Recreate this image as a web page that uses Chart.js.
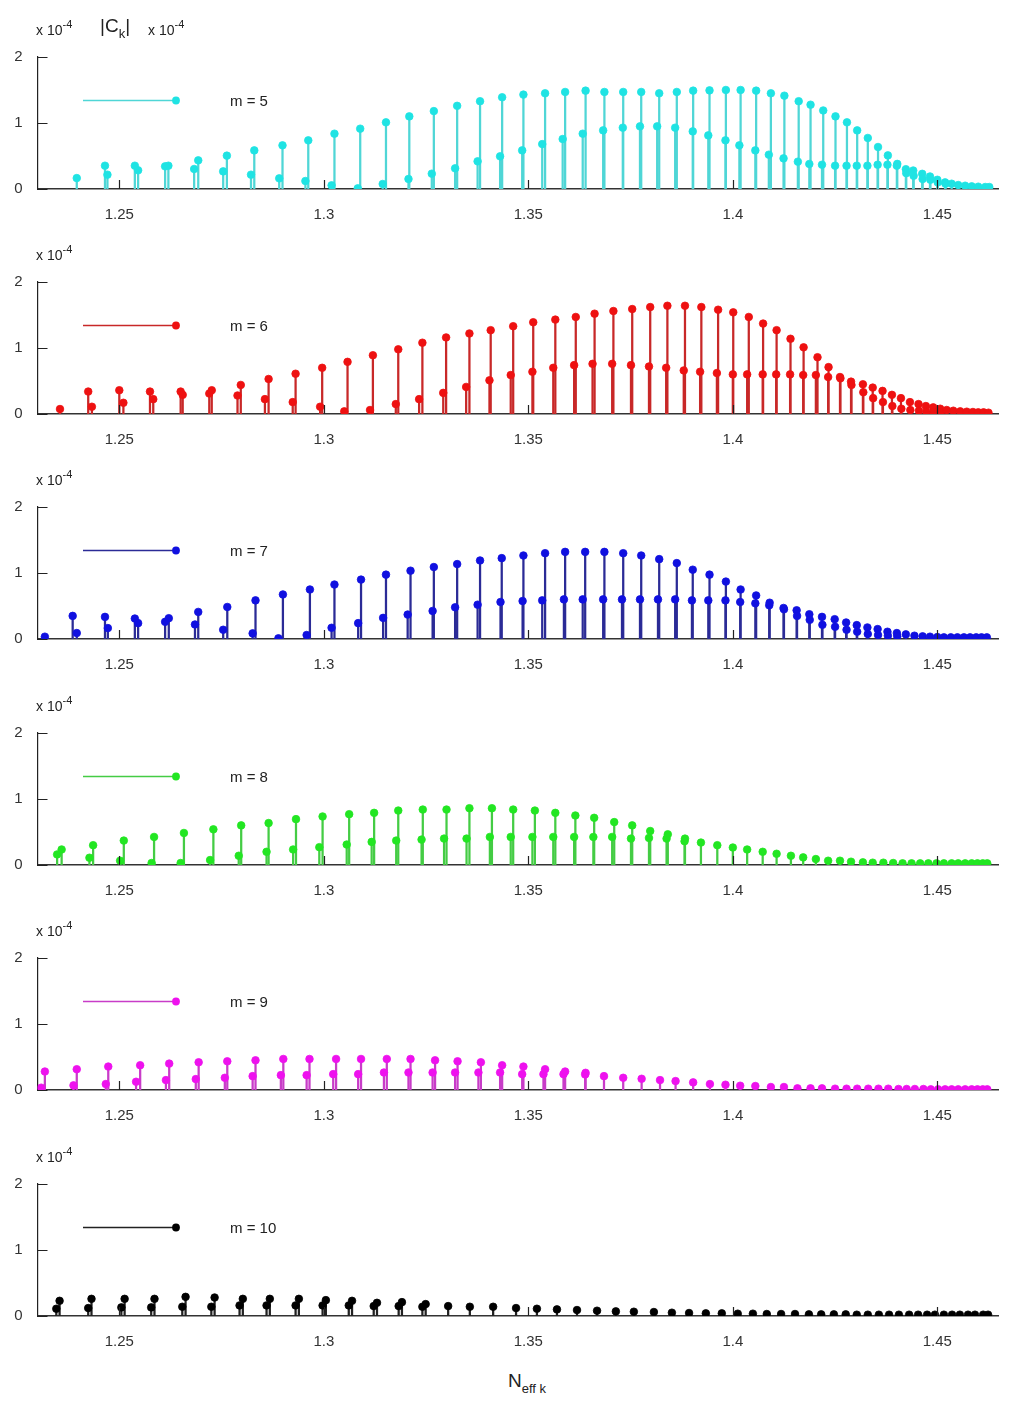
<!DOCTYPE html>
<html>
<head>
<meta charset="utf-8">
<script src="https://cdn.jsdelivr.net/npm/chart.js@4.4.1/dist/chart.umd.min.js"></script>
<style>
  html, body { margin: 0; padding: 0; background: #fff; }
  body { width: 1016px; height: 1404px; position: relative; overflow: hidden;
         font-family: "Liberation Sans", Arial, sans-serif; color: #222; }
  canvas.panel { position: absolute; left: 0; }
  .ann { position: absolute; white-space: nowrap; line-height: 14px; }
  .ann sup { font-size: 11px; line-height: 0; vertical-align: 7px; }
  .ann sub { font-size: 13px; line-height: 0; vertical-align: -6px; }
</style>
</head>
<body>
<canvas id="p0" class="panel" width="1016" height="225"></canvas>
<canvas id="p1" class="panel" width="1016" height="225"></canvas>
<canvas id="p2" class="panel" width="1016" height="225"></canvas>
<canvas id="p3" class="panel" width="1016" height="225"></canvas>
<canvas id="p4" class="panel" width="1016" height="225"></canvas>
<canvas id="p5" class="panel" width="1016" height="225"></canvas>
<script>
// ---------------- DATA ----------------
const xTicks = [1.25, 1.3, 1.35, 1.4, 1.45];
const xTickLabels = ['1.25', '1.3', '1.35', '1.4', '1.45'];
const yTicks = [0, 1, 2];
const yTickLabels = ['0', '1', '2'];
const xRange = [1.23, 1.465];
const yRange = [0, 2];
const modeLabels = ['m = 5', 'm = 6', 'm = 7', 'm = 8', 'm = 9', 'm = 10'];

// m = 5
const neffM5 = [1.2396,1.2465,1.2471,1.2538,1.2546,1.2612,1.2620,1.2683,1.2693,1.2754,1.2763,1.2822,1.2830,1.2891,1.2899,1.2955,1.2962,1.3019,1.3026,1.3083,1.3089,1.3144,1.3152,1.3207,1.3209,1.3264,1.3269,1.3321,1.3326,1.3376,1.3382,1.3431,1.3436,1.3485,1.3488,1.3534,1.3541,1.3584,1.3590,1.3633,1.3640,1.3683,1.3686,1.3731,1.3732,1.3773,1.3776,1.3815,1.3820,1.3859,1.3863,1.3902,1.3903,1.3940,1.3943,1.3982,1.3983,1.4016,1.4019,1.4055,1.4057,1.4088,1.4093,1.4124,1.4126,1.4159,1.4161,1.4187,1.4190,1.4218,1.4221,1.4250,1.4251,1.4278,1.4279,1.4303,1.4304,1.4329,1.4330,1.4354,1.4355,1.4378,1.4379,1.4401,1.4402,1.4423,1.4424,1.4441,1.4442,1.4463,1.4464,1.4482,1.4483,1.4500,1.4501,1.4519,1.4520,1.4535,1.4551,1.4568,1.4584,1.4600,1.4617,1.4627];
const ckM5 = [0.165,0.353,0.217,0.353,0.283,0.343,0.353,0.303,0.434,0.267,0.505,0.217,0.585,0.161,0.661,0.121,0.737,0.055,0.838,0.01,0.914,0.076,1.01,0.152,1.10,0.232,1.18,0.313,1.26,0.419,1.33,0.495,1.39,0.585,1.43,0.68,1.45,0.757,1.47,0.838,1.49,0.888,1.47,0.929,1.47,0.949,1.47,0.949,1.45,0.929,1.47,0.873,1.49,0.812,1.494,0.737,1.50,0.661,1.50,0.585,1.49,0.52,1.45,0.464,1.414,0.414,1.33,0.379,1.277,0.368,1.19,0.353,1.10,0.353,1.01,0.353,0.888,0.353,0.773,0.368,0.636,0.368,0.509,0.353,0.38,0.30,0.24,0.28,0.20,0.23,0.15,0.19,0.14,0.14,0.10,0.10,0.08,0.08,0.06,0.05,0.04,0.035,0.03,0.03];

// m = 6
const neffM6 = [1.2355,1.2424,1.2433,1.2500,1.2510,1.2575,1.2583,1.2650,1.2655,1.2720,1.2726,1.2789,1.2797,1.2856,1.2865,1.2924,1.2931,1.2991,1.2996,1.3050,1.3058,1.3113,1.3120,1.3176,1.3182,1.3233,1.3241,1.3292,1.3299,1.3348,1.3356,1.3405,1.3408,1.3457,1.3463,1.3510,1.3512,1.3561,1.3566,1.3612,1.3616,1.3657,1.3662,1.3705,1.3708,1.3751,1.3754,1.3795,1.3798,1.3837,1.3840,1.3880,1.3883,1.3920,1.3923,1.3961,1.3964,1.4000,1.4001,1.4035,1.4039,1.4073,1.4074,1.4106,1.4107,1.4140,1.4141,1.4172,1.4173,1.4203,1.4207,1.4233,1.4234,1.4262,1.4263,1.4289,1.4290,1.4318,1.4319,1.4342,1.4343,1.4366,1.4367,1.4389,1.4390,1.4411,1.4412,1.4433,1.4434,1.4454,1.4455,1.4472,1.4473,1.4490,1.4491,1.4507,1.4508,1.4523,1.4539,1.4556,1.4572,1.4587,1.4600,1.4613,1.4625];
const ckM6 = [0.075,0.34,0.11,0.36,0.17,0.34,0.225,0.34,0.29,0.31,0.36,0.28,0.44,0.225,0.53,0.18,0.61,0.11,0.70,0.04,0.79,0.06,0.89,0.15,0.98,0.225,1.08,0.32,1.16,0.41,1.22,0.51,1.27,0.59,1.33,0.64,1.39,0.70,1.43,0.74,1.47,0.76,1.52,0.76,1.56,0.74,1.59,0.72,1.62,0.70,1.64,0.66,1.64,0.64,1.62,0.62,1.58,0.60,1.54,0.60,1.47,0.60,1.37,0.60,1.27,0.60,1.14,0.59,1.01,0.59,0.86,0.56,0.71,0.56,0.54,0.49,0.44,0.45,0.33,0.40,0.24,0.35,0.18,0.29,0.12,0.24,0.08,0.18,0.06,0.15,0.05,0.12,0.035,0.10,0.025,0.08,0.025,0.06,0.05,0.04,0.035,0.03,0.025,0.025,0.02];

// m = 7
const neffM7 = [1.2318,1.2386,1.2396,1.2465,1.2472,1.2538,1.2546,1.2612,1.2621,1.2685,1.2693,1.2754,1.2764,1.2826,1.2833,1.2889,1.2900,1.2958,1.2966,1.3019,1.3026,1.3084,1.3091,1.3145,1.3152,1.3205,1.3212,1.3266,1.3269,1.3321,1.3326,1.3376,1.3382,1.3432,1.3435,1.3486,1.3488,1.3534,1.3541,1.3587,1.3590,1.3633,1.3639,1.3683,1.3686,1.3729,1.3732,1.3773,1.3776,1.3817,1.3820,1.3859,1.3863,1.3900,1.3902,1.3940,1.3943,1.3982,1.3983,1.4018,1.4019,1.4055,1.4057,1.4089,1.4090,1.4124,1.4125,1.4156,1.4157,1.4187,1.4188,1.4218,1.4219,1.4249,1.4250,1.4277,1.4278,1.4303,1.4304,1.4329,1.4330,1.4354,1.4355,1.4378,1.4379,1.4401,1.4402,1.4423,1.4444,1.4464,1.4482,1.4500,1.4516,1.4533,1.4549,1.4565,1.4580,1.4595,1.4608,1.4621];
const ckM7 = [0.035,0.35,0.09,0.335,0.165,0.31,0.24,0.26,0.315,0.22,0.41,0.14,0.485,0.085,0.585,0.01,0.675,0.06,0.75,0.17,0.825,0.24,0.90,0.32,0.975,0.37,1.035,0.425,1.09,0.48,1.135,0.52,1.19,0.56,1.225,0.575,1.265,0.585,1.30,0.60,1.32,0.60,1.32,0.60,1.32,0.60,1.30,0.60,1.265,0.60,1.21,0.60,1.15,0.585,1.05,0.585,0.975,0.585,0.87,0.56,0.75,0.54,0.66,0.51,0.55,0.47,0.45,0.435,0.35,0.375,0.29,0.335,0.215,0.30,0.185,0.25,0.14,0.21,0.11,0.175,0.075,0.15,0.06,0.11,0.05,0.09,0.04,0.07,0.05,0.04,0.035,0.03,0.025,0.025,0.025,0.025,0.025,0.025,0.025,0.025];

// m = 8
const neffM8 = [1.2348,1.2359,1.2427,1.2436,1.2502,1.2511,1.2579,1.2585,1.2650,1.2658,1.2722,1.2730,1.2792,1.2798,1.2860,1.2865,1.2925,1.2932,1.2989,1.2997,1.3056,1.3062,1.3117,1.3123,1.3177,1.3182,1.3239,1.3242,1.3294,1.3300,1.3349,1.3356,1.3406,1.3411,1.3457,1.3463,1.3510,1.3516,1.3561,1.3566,1.3612,1.3615,1.3659,1.3661,1.3705,1.3710,1.3751,1.3754,1.3795,1.3798,1.3838,1.3841,1.3882,1.3883,1.3922,1.3962,1.4000,1.4035,1.4073,1.4107,1.4142,1.4172,1.4203,1.4233,1.4262,1.4289,1.4318,1.4342,1.4368,1.4392,1.4415,1.4437,1.4458,1.4478,1.4498,1.4516,1.4535,1.4551,1.4568,1.4584,1.4598,1.4611,1.4622];
const ckM8 = [0.16,0.235,0.11,0.30,0.065,0.37,0.03,0.425,0.03,0.485,0.075,0.54,0.14,0.60,0.20,0.635,0.235,0.695,0.27,0.735,0.31,0.77,0.35,0.79,0.37,0.825,0.385,0.84,0.40,0.84,0.40,0.86,0.425,0.86,0.425,0.84,0.425,0.825,0.425,0.79,0.425,0.75,0.425,0.715,0.425,0.65,0.40,0.60,0.41,0.515,0.40,0.465,0.36,0.40,0.34,0.30,0.265,0.235,0.20,0.17,0.14,0.115,0.09,0.065,0.065,0.05,0.04,0.035,0.035,0.03,0.025,0.025,0.025,0.025,0.025,0.025,0.025,0.025,0.025,0.025,0.025,0.025,0.025];

// m = 9
const neffM9 = [1.2309,1.2318,1.2388,1.2396,1.2467,1.2473,1.2541,1.2551,1.2614,1.2622,1.2687,1.2694,1.2758,1.2764,1.2826,1.2833,1.2895,1.2901,1.2958,1.2965,1.3023,1.3030,1.3084,1.3091,1.3147,1.3154,1.3207,1.3212,1.3266,1.3272,1.3321,1.3327,1.3378,1.3384,1.3431,1.3436,1.3485,1.3488,1.3537,1.3541,1.3586,1.3590,1.3639,1.3640,1.3685,1.3732,1.3777,1.3822,1.3860,1.3903,1.3944,1.3982,1.4018,1.4055,1.4093,1.4125,1.4158,1.4190,1.4218,1.4250,1.4278,1.4304,1.4331,1.4356,1.4380,1.4405,1.4425,1.4445,1.4466,1.4484,1.4502,1.4519,1.4535,1.4551,1.4568,1.4584,1.4598,1.4611,1.4622];
const ckM9 = [0.035,0.28,0.07,0.315,0.09,0.355,0.125,0.375,0.15,0.40,0.165,0.42,0.185,0.435,0.21,0.45,0.225,0.47,0.225,0.47,0.24,0.47,0.24,0.47,0.265,0.47,0.265,0.47,0.265,0.45,0.265,0.435,0.265,0.42,0.265,0.375,0.24,0.355,0.24,0.315,0.24,0.28,0.235,0.26,0.21,0.185,0.17,0.15,0.135,0.115,0.09,0.08,0.065,0.06,0.045,0.045,0.025,0.025,0.025,0.02,0.02,0.02,0.02,0.02,0.02,0.015,0.015,0.015,0.015,0.01,0.01,0.01,0.01,0.01,0.01,0.01,0.01,0.01,0.01];

// m = 10
const neffM10 = [1.2346,1.2354,1.2424,1.2432,1.2505,1.2513,1.2578,1.2586,1.2654,1.2662,1.2725,1.2733,1.2794,1.2802,1.2860,1.2868,1.2931,1.2939,1.2997,1.3005,1.3061,1.3069,1.3122,1.3130,1.3183,1.3191,1.3241,1.3249,1.3304,1.3357,1.3414,1.3470,1.3521,1.3570,1.3619,1.3668,1.3714,1.3758,1.3807,1.3851,1.3893,1.3934,1.3973,1.4012,1.4049,1.4083,1.4118,1.4152,1.4186,1.4216,1.4247,1.4276,1.4303,1.4330,1.4357,1.4382,1.4406,1.4431,1.4453,1.4475,1.4494,1.4516,1.4536,1.4555,1.4575,1.4592,1.4612,1.4624];
const ckM10 = [0.11,0.23,0.12,0.26,0.13,0.26,0.13,0.26,0.14,0.29,0.14,0.28,0.16,0.26,0.16,0.26,0.16,0.26,0.16,0.24,0.16,0.23,0.15,0.20,0.15,0.21,0.14,0.18,0.15,0.14,0.14,0.12,0.11,0.10,0.09,0.08,0.07,0.065,0.06,0.05,0.045,0.04,0.04,0.035,0.035,0.03,0.03,0.03,0.025,0.025,0.025,0.025,0.02,0.02,0.02,0.02,0.02,0.02,0.02,0.02,0.02,0.02,0.02,0.02,0.02,0.02,0.02,0.02];

const neffSets = [neffM5, neffM6, neffM7, neffM8, neffM9, neffM10];
const ckSets = [ckM5, ckM6, ckM7, ckM8, ckM9, ckM10];

// ---------------- STYLE ----------------
const markerColors = ['#1fe3e3', '#ee1111', '#1010e0', '#22e622', '#ee11ee', '#000000'];
const stemColors   = ['#4fd6d6', '#c82828', '#2b2b96', '#44cc44', '#c83cc8', '#222222'];
const panelTops = [0, 225, 450, 676, 901, 1127];

const inwardTicks = {
  id: 'inwardTicks',
  afterDraw(chart) {
    const { ctx, chartArea: a, scales: { x, y } } = chart;
    ctx.save();
    ctx.strokeStyle = '#222';
    ctx.lineWidth = 1.2;
    ctx.beginPath();
    xTicks.forEach(v => {
      const px = Math.round(x.getPixelForValue(v)) + 0.5;
      ctx.moveTo(px, a.bottom);
      ctx.lineTo(px, a.bottom - 9);
    });
    yTicks.forEach(v => {
      const py = Math.round(y.getPixelForValue(v)) + 0.5;
      ctx.moveTo(a.left, py);
      ctx.lineTo(a.left + 10, py);
    });
    ctx.stroke();
    ctx.restore();
  }
};

const stemLegend = {
  id: 'stemLegend',
  afterDraw(chart, args, opts) {
    const ctx = chart.ctx;
    ctx.save();
    ctx.strokeStyle = opts.stem;
    ctx.lineWidth = 1.4;
    ctx.beginPath();
    ctx.moveTo(83, 100.5);
    ctx.lineTo(176, 100.5);
    ctx.stroke();
    ctx.fillStyle = opts.marker;
    ctx.beginPath();
    ctx.arc(176, 100.5, 3.9, 0, Math.PI * 2);
    ctx.fill();
    ctx.restore();
  }
};

function makePanel(i) {
  const pts = neffSets[i].map((x, k) => ({ x: x, y: ckSets[i][k] }));
  const cv = document.getElementById('p' + i);
  cv.style.top = panelTops[i] + 'px';
  return new Chart(cv, {
    type: 'scatter',
    data: {
      datasets: [
        { type: 'scatter', data: pts, backgroundColor: markerColors[i], borderColor: markerColors[i],
          pointRadius: 3.8, pointBorderWidth: 0.8, pointHoverRadius: 3.8, order: 0 },
        { type: 'bar', data: pts, backgroundColor: stemColors[i], borderWidth: 0,
          barThickness: 1.6, order: 1 }
      ]
    },
    options: {
      responsive: false, animation: false, devicePixelRatio: 1,
      layout: { padding: { top: 57, right: 17.3, left: 0, bottom: 0 } },
      plugins: {
        legend: { display: false }, tooltip: { enabled: false },
        stemLegend: { stem: stemColors[i], marker: markerColors[i] }
      },
      scales: {
        x: {
          type: 'linear', min: xRange[0], max: xRange[1], offset: false,
          grid: { display: false, offset: false, drawTicks: false },
          border: { display: true, color: '#333', width: 1.6 },
          afterBuildTicks: s => { s.ticks = xTicks.map(v => ({ value: v })); },
          ticks: {
            autoSkip: false, maxRotation: 0, padding: 17, color: '#333',
            font: { family: 'Liberation Sans', size: 15 },
            callback: v => xTickLabels[xTicks.indexOf(v)]
          },
          afterFit: s => { s.height = 36; }
        },
        y: {
          type: 'linear', min: yRange[0], max: yRange[1],
          grid: { display: false, drawTicks: false },
          border: { display: true, color: '#222', width: 1.2 },
          afterBuildTicks: s => { s.ticks = yTicks.map(v => ({ value: v })); },
          ticks: {
            padding: 15, color: '#333',
            font: { family: 'Liberation Sans', size: 15 },
            callback: v => yTickLabels[yTicks.indexOf(v)]
          },
          afterFit: s => { s.width = 37.5; }
        }
      }
    },
    plugins: [inwardTicks, stemLegend]
  });
}

for (let i = 0; i < 6; i++) makePanel(i);

// ---------------- TEXT ANNOTATIONS ----------------
function addText(html, left, top, size) {
  const d = document.createElement('div');
  d.className = 'ann';
  d.style.left = left + 'px';
  d.style.top = top + 'px';
  d.style.fontSize = size + 'px';
  d.innerHTML = html;
  document.body.appendChild(d);
  return d;
}
for (let i = 0; i < 6; i++) {
  addText('x 10<sup>-4</sup>', 36, panelTops[i] + 23, 14);
  addText(modeLabels[i], 230, panelTops[i] + 94, 15);
}
addText('|C<sub>k</sub>|', 100, 19, 19);
addText('x 10<sup>-4</sup>', 148, 23, 14);
addText('N<sub>eff k</sub>', 508, 1374, 19);
</script>
</body>
</html>
